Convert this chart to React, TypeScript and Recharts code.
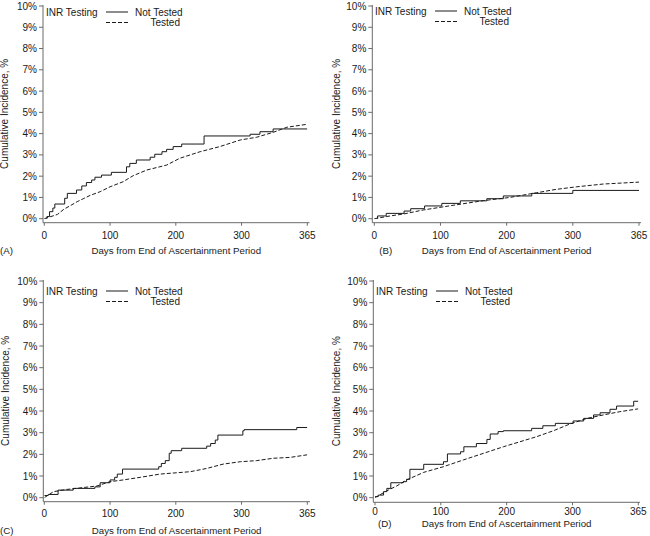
import React from "react";
import { LineChart, Line, XAxis, YAxis, Legend } from "recharts";

// x axis is evenly spaced, the last tick reads 365
const xTicks = [0, 100, 200, 300, 400];
const xTickLabels = ["0", "100", "200", "300", "365"];
const yTicks = [0, 1, 2, 3, 4, 5, 6, 7, 8, 9, 10];
const yTickLabels = ["0%", "1%", "2%", "3%", "4%", "5%", "6%", "7%", "8%", "9%", "10%"];

const seriesNames = ["Not Tested", "Tested"];
const legendTitle = "INR Testing";
const xTitle = "Days from End of Ascertainment Period";
const yTitle = "Cumulative Incidence, %";

// [day, cumulative incidence %]
const notTestedA = [
  [0, 0], [4, 0.1], [8, 0.33], [13, 0.5], [16, 0.69], [31, 0.96], [35, 1.19], [49, 1.35],
  [57, 1.54], [64, 1.7], [72, 1.82], [77, 1.95], [87, 2.05], [102, 2.18], [125, 2.44],
  [130, 2.6], [140, 2.76], [161, 2.89], [168, 3.03], [179, 3.15], [186, 3.26], [196, 3.39],
  [209, 3.51], [243, 3.89], [313, 3.97], [328, 4.09], [348, 4.22], [400, 4.22],
];
const testedA = [
  [0, 0], [10, 0.1], [20, 0.2], [30, 0.45], [40, 0.62], [50, 0.8], [60, 0.95], [70, 1.1],
  [85, 1.27], [100, 1.5], [120, 1.74], [135, 2.02], [156, 2.29], [186, 2.52], [206, 2.84],
  [237, 3.15], [267, 3.39], [298, 3.7], [323, 3.83], [348, 4.06], [369, 4.3], [400, 4.44],
];
const notTestedB = [
  [0, 0], [5, 0.13], [18, 0.25], [45, 0.36], [55, 0.47], [76, 0.6], [102, 0.72], [130, 0.84],
  [170, 0.94], [195, 1.07], [238, 1.19], [300, 1.33], [400, 1.33],
];
const testedB = [
  [0, 0], [24, 0.13], [44, 0.22], [74, 0.41], [119, 0.63], [165, 0.85], [205, 1.0],
  [245, 1.22], [275, 1.38], [306, 1.5], [346, 1.63], [400, 1.72],
];
const notTestedC = [
  [0, 0.1], [6, 0.15], [21, 0.35], [44, 0.43], [77, 0.5], [85, 0.69], [100, 0.82], [107, 0.94],
  [111, 1.09], [119, 1.32], [174, 1.43], [178, 1.58], [184, 1.71], [190, 2.05], [193, 2.17],
  [209, 2.28], [247, 2.38], [253, 2.5], [260, 2.66], [264, 2.89], [302, 3.09], [304, 3.14],
  [384, 3.24], [400, 3.24],
];
const testedC = [
  [0, 0], [14, 0.28], [34, 0.38], [54, 0.45], [80, 0.54], [100, 0.74], [120, 0.82], [146, 0.94],
  [176, 1.09], [222, 1.2], [247, 1.35], [272, 1.55], [298, 1.66], [323, 1.71], [348, 1.82],
  [374, 1.86], [400, 1.98],
];
const notTestedD = [
  [0, 0.05], [5, 0.12], [13, 0.28], [18, 0.43], [24, 0.69], [43, 0.74], [48, 0.85], [53, 1.31],
  [74, 1.54], [104, 1.66], [110, 2.02], [130, 2.12], [135, 2.35], [154, 2.5], [170, 2.69],
  [175, 2.94], [187, 3.05], [195, 3.09], [238, 3.2], [255, 3.32], [274, 3.43], [301, 3.54],
  [317, 3.66], [332, 3.82], [342, 3.92], [357, 4.08], [367, 4.23], [393, 4.45], [400, 4.45],
];
const testedD = [
  [0, 0], [18, 0.32], [33, 0.54], [48, 0.82], [74, 1.17], [104, 1.43], [134, 1.74], [165, 2.05],
  [195, 2.35], [220, 2.58], [246, 2.82], [271, 3.09], [296, 3.4], [322, 3.66], [347, 3.82],
  [372, 3.97], [400, 4.1],
];

const toRows = (pts: number[][]) => pts.map(([day, pct]) => ({ day, pct }));

const FONT = "'Liberation Sans', Arial, Helvetica, sans-serif";
const AXIS = "#6a6a6a";
const INK = "#1a1a1a";

interface PanelProps {
  letter: string;
  notTested: number[][];
  tested: number[][];
  left: number; // chart box on page
  top: number;
  width: number;
  height: number;
  plotLeft: number; // plot frame on page
  plotTop: number;
  plotRight: number;
  plotBottom: number;
  padX: [number, number];
  padY: [number, number];
  xTickMargin: number;
  xTitleDy: number;
  letterX: number; // page x of "(A)" etc
  yTitleX: number; // page x of y title centre
  legendDy: number;
}

function Panel(p: PanelProps) {
  const yAxisW = p.plotLeft - p.left;
  const xAxisH = p.top + p.height - p.plotBottom;
  const margin = { top: p.plotTop - p.top, right: p.left + p.width - p.plotRight, left: 0, bottom: 0 };

  const renderLegend = () => (
    <svg width={150} height={30} style={{ display: "block", overflow: "visible" }}>
      <g fontSize={10} fill={INK} fontFamily={FONT}>
        <text x={3} y={p.legendDy} dominantBaseline="central">{legendTitle}</text>
        <line x1={63} x2={85} y1={p.legendDy} y2={p.legendDy} stroke={INK} strokeWidth={1} />
        <text x={92} y={p.legendDy} dominantBaseline="central">{seriesNames[0]}</text>
        <line x1={63} x2={85} y1={p.legendDy + 10.5} y2={p.legendDy + 10.5} stroke={INK} strokeWidth={1} strokeDasharray="4 2" />
        <text x={107.5} y={p.legendDy + 10.5} dominantBaseline="central">{seriesNames[1]}</text>
      </g>
    </svg>
  );

  const renderXTitle = (props: any) => {
    const vb = props.viewBox;
    return (
      <g fontSize={9.7} fill={INK} fontFamily={FONT}>
        <text x={vb.x + vb.width / 2} y={vb.y + p.xTitleDy} textAnchor="middle">{xTitle}</text>
        <text x={p.letterX - p.left} y={vb.y + p.xTitleDy}>{p.letter}</text>
      </g>
    );
  };

  const renderYTitle = (props: any) => {
    const vb = props.viewBox;
    const cx = p.yTitleX - p.left;
    const cy = vb.y + vb.height / 2;
    return (
      <text
        x={cx}
        y={cy}
        transform={`rotate(-90, ${cx}, ${cy})`}
        textAnchor="middle"
        dominantBaseline="central"
        fontSize={10}
        fill={INK}
        fontFamily={FONT}
      >
        {yTitle}
      </text>
    );
  };

  return (
    <div style={{ position: "absolute", left: p.left, top: p.top, width: p.width, height: p.height }}>
      <LineChart width={p.width} height={p.height} margin={margin}>
        <XAxis
          xAxisId="main"
          type="number"
          dataKey="day"
          domain={[0, 400]}
          ticks={xTicks}
          tickFormatter={(v: number) => xTickLabels[xTicks.indexOf(v)]}
          allowDataOverflow
          padding={{ left: p.padX[0], right: p.padX[1] }}
          height={xAxisH}
          stroke={AXIS}
          tickSize={3}
          tickMargin={p.xTickMargin}
          tick={{ fontSize: 10, fill: INK, fontFamily: FONT }}
          label={{ content: renderXTitle }}
        />
        <XAxis
          xAxisId="top"
          orientation="top"
          type="number"
          domain={[0, 400]}
          height={0}
          tick={false}
          tickLine={false}
          stroke={AXIS}
        />
        <YAxis
          yAxisId="main"
          type="number"
          domain={[0, 10]}
          ticks={yTicks}
          tickFormatter={(v: number) => yTickLabels[yTicks.indexOf(v)]}
          allowDataOverflow
          padding={{ top: p.padY[0], bottom: p.padY[1] }}
          width={yAxisW}
          stroke={AXIS}
          tickSize={4}
          tickMargin={2}
          interval={0}
          tick={{ fontSize: 10, fill: INK, fontFamily: FONT }}
          label={{ content: renderYTitle }}
        />
        <YAxis
          yAxisId="right"
          orientation="right"
          type="number"
          domain={[0, 10]}
          width={0}
          tick={false}
          tickLine={false}
          stroke={AXIS}
        />
        <Legend
          layout="vertical"
          align="center"
          verticalAlign="middle"
          wrapperStyle={{ left: p.plotLeft - p.left, top: p.plotTop - p.top, width: 150, height: 30 }}
          content={renderLegend}
        />
        <Line
          xAxisId="main"
          yAxisId="main"
          data={toRows(p.notTested)}
          dataKey="pct"
          name={seriesNames[0]}
          type="stepAfter"
          stroke={INK}
          strokeWidth={1}
          dot={false}
          isAnimationActive={false}
        />
        <Line
          xAxisId="main"
          yAxisId="main"
          data={toRows(p.tested)}
          dataKey="pct"
          name={seriesNames[1]}
          type="linear"
          stroke={INK}
          strokeWidth={1}
          strokeDasharray="4 2"
          dot={false}
          isAnimationActive={false}
        />
      </LineChart>
    </div>
  );
}

export default function App() {
  return (
    <div style={{ position: "absolute", left: 0, top: 0, width: 650, height: 536, background: "#fff", fontFamily: FONT }}>
      <Panel
        letter="(A)" notTested={notTestedA} tested={testedA}
        left={0} top={0} width={325} height={268}
        plotLeft={43} plotTop={5} plotRight={309.5} plotBottom={222.7}
        padX={[1.3, 2.2]} padY={[1, 4]} xTickMargin={6} xTitleDy={31}
        letterX={0} yTitleX={5} legendDy={7}
      />
      <Panel
        letter="(B)" notTested={notTestedB} tested={testedB}
        left={329} top={0} width={321} height={268}
        plotLeft={372.3} plotTop={5} plotRight={641} plotBottom={222.7}
        padX={[2, 2]} padY={[1, 4]} xTickMargin={6} xTitleDy={31}
        letterX={379.3} yTitleX={336.5} legendDy={6}
      />
      <Panel
        letter="(C)" notTested={notTestedC} tested={testedC}
        left={0} top={272} width={325} height={264}
        plotLeft={43.3} plotTop={280} plotRight={310} plotBottom={501.7}
        padX={[1, 2.7]} padY={[1, 4]} xTickMargin={5} xTitleDy={31.8}
        letterX={0} yTitleX={6} legendDy={11}
      />
      <Panel
        letter="(D)" notTested={notTestedD} tested={testedD}
        left={329} top={272} width={321} height={264}
        plotLeft={373.3} plotTop={280} plotRight={640} plotBottom={502.3}
        padX={[1.7, 1.7]} padY={[1, 4.6]} xTickMargin={2.5} xTitleDy={25}
        letterX={378} yTitleX={336.5} legendDy={11}
      />
    </div>
  );
}
